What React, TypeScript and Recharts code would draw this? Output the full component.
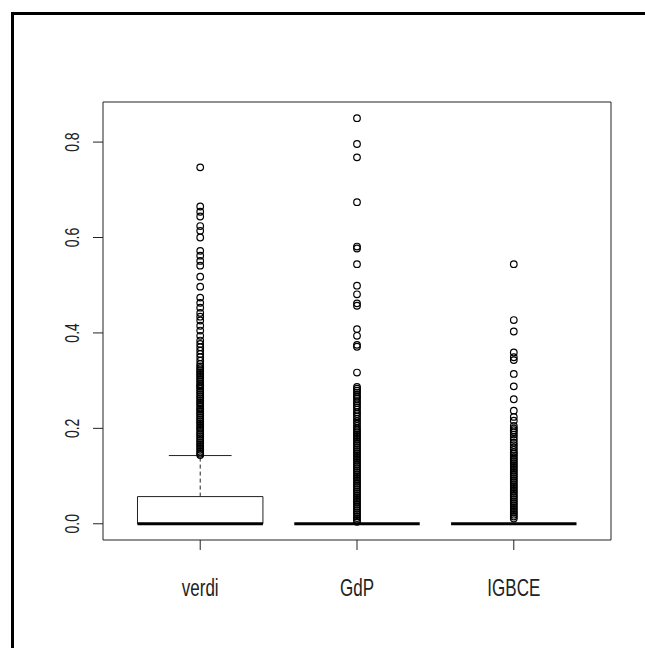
import React from "react";
import {
  ComposedChart,
  Scatter,
  XAxis,
  YAxis,
  ReferenceArea,
  ReferenceLine,
} from "recharts";

const groups = ["verdi", "GdP", "IGBCE"];
const yTicks = [0, 0.2, 0.4, 0.6, 0.8];

// box stats: [lower, median, upper quartile, whisker top]
const boxStats = [
  { q1: 0, median: 0, q3: 0.057, whisker: 0.143 },
  { q1: 0, median: 0, q3: 0, whisker: 0 },
  { q1: 0, median: 0, q3: 0, whisker: 0 },
];

const verdiOutliers = [
  0.747, 0.665, 0.654, 0.644, 0.624, 0.614, 0.6, 0.572, 0.562, 0.551, 0.541,
  0.518, 0.497, 0.474, 0.463, 0.453, 0.442, 0.434, 0.426, 0.415, 0.405, 0.394,
  0.384, 0.377, 0.37, 0.363, 0.356, 0.349, 0.342, 0.335, 0.33, 0.326, 0.322,
  0.318, 0.314, 0.31, 0.306, 0.302, 0.298, 0.293, 0.29, 0.287, 0.283, 0.279,
  0.275, 0.271, 0.267, 0.263, 0.259, 0.255, 0.251, 0.247, 0.242, 0.239, 0.235,
  0.231, 0.227, 0.223, 0.219, 0.215, 0.211, 0.207, 0.203, 0.199, 0.195, 0.19,
  0.187, 0.183, 0.179, 0.175, 0.171, 0.167, 0.163, 0.159, 0.155, 0.151, 0.147,
  0.144,
];

const gdpOutliers = [
  0.85, 0.796, 0.768, 0.674, 0.581, 0.577, 0.544, 0.499, 0.481, 0.462, 0.457,
  0.408, 0.394, 0.375, 0.371, 0.317, 0.287, 0.283, 0.279, 0.275, 0.27, 0.266,
  0.262, 0.257, 0.253, 0.248, 0.244, 0.239, 0.234, 0.23, 0.225, 0.22, 0.215,
  0.21, 0.205, 0.2, 0.196, 0.192, 0.188, 0.184, 0.18, 0.176, 0.172, 0.168,
  0.164, 0.16, 0.156, 0.152, 0.148, 0.144, 0.14, 0.136, 0.132, 0.128, 0.124,
  0.12, 0.116, 0.112, 0.108, 0.104, 0.1, 0.096, 0.092, 0.088, 0.084, 0.08,
  0.076, 0.072, 0.068, 0.064, 0.06, 0.056, 0.052, 0.048, 0.044, 0.04, 0.036,
  0.032, 0.028, 0.024, 0.02, 0.016, 0.012, 0.008, 0.004,
];

const igbceOutliers = [
  0.544, 0.427, 0.403, 0.359, 0.349, 0.343, 0.314, 0.288, 0.261, 0.237, 0.224,
  0.216, 0.205, 0.2, 0.196, 0.192, 0.187, 0.182, 0.176, 0.17, 0.165, 0.16,
  0.155, 0.15, 0.147, 0.143, 0.139, 0.135, 0.131, 0.127, 0.123, 0.119, 0.115,
  0.111, 0.107, 0.103, 0.099, 0.095, 0.091, 0.087, 0.083, 0.079, 0.075, 0.071,
  0.067, 0.063, 0.059, 0.055, 0.051, 0.047, 0.043, 0.039, 0.035, 0.031, 0.027,
  0.023, 0.019, 0.015, 0.011,
];

const outliers = [verdiOutliers, gdpOutliers, igbceOutliers];

const X_DOMAIN: [number, number] = [0.38, 3.62];
const Y_DOMAIN: [number, number] = [-0.034, 0.884];
const HALF = 0.4;
const TEXT = "#222";
const FONT = "'Liberation Sans', Arial, sans-serif";

const Circle = (props: any) => (
  <circle cx={props.cx} cy={props.cy} r={3.3} fill="none" stroke="#000" strokeWidth={1.2} />
);

const YTick = (props: any) => {
  const { y, payload } = props;
  return (
    <g transform={`translate(72,${y}) rotate(-90) scale(1,1.4)`}>
      <text x={0} y={0} dy={5} textAnchor="middle" fill={TEXT} fontSize={14} fontFamily={FONT}>
        {payload.value.toFixed(1)}
      </text>
    </g>
  );
};

const XTick = (props: any) => {
  const { x, payload } = props;
  return (
    <g transform={`translate(${x},588) scale(1,1.4)`}>
      <text x={0} y={0} dy={6} textAnchor="middle" fill={TEXT} fontSize={17} fontFamily={FONT}>
        {groups[payload.value - 1]}
      </text>
    </g>
  );
};

export default function App() {
  return (
    <div
      style={{
        position: "absolute",
        left: 0,
        top: 0,
        width: 645,
        height: 648,
        background: "#fff",
        overflow: "hidden",
      }}
    >
      {/* outer frame (only left and top edges are in view) */}
      <div
        style={{
          position: "absolute",
          left: 11,
          top: 12,
          width: 700,
          height: 700,
          borderLeft: "3px solid #000",
          borderTop: "3px solid #000",
        }}
      />
      <div style={{ position: "absolute", left: 0, top: 0 }}>
        <ComposedChart
          width={645}
          height={648}
          margin={{ top: 102, right: 34, bottom: 68, left: 43 }}
        >
          <XAxis
            type="number"
            dataKey="x"
            domain={X_DOMAIN}
            ticks={[1, 2, 3]}
            allowDataOverflow
            axisLine={false}
            tickSize={10}
            tickLine={{ stroke: "#222" }}
            tick={<XTick />}
            height={40}
          />
          <YAxis
            type="number"
            dataKey="y"
            domain={Y_DOMAIN}
            ticks={yTicks}
            allowDataOverflow
            axisLine={false}
            tickSize={10}
            tickLine={{ stroke: "#222" }}
            tick={<YTick />}
            width={60}
          />
          <ReferenceArea
            x1={X_DOMAIN[0]}
            x2={X_DOMAIN[1]}
            y1={Y_DOMAIN[0]}
            y2={Y_DOMAIN[1]}
            fill="none"
            fillOpacity={0}
            stroke="#222"
            strokeWidth={1}
          />
          {boxStats.map((b, i) => {
            const c = i + 1;
            return (
              <React.Fragment key={groups[i]}>
                {b.q3 > b.q1 && (
                  <ReferenceArea
                    x1={c - HALF}
                    x2={c + HALF}
                    y1={b.q1}
                    y2={b.q3}
                    fill="none"
                    fillOpacity={0}
                    stroke="#222"
                    strokeWidth={1}
                  />
                )}
                {b.whisker > b.q3 && (
                  <ReferenceLine
                    segment={[
                      { x: c, y: b.q3 },
                      { x: c, y: b.whisker },
                    ]}
                    stroke="#222"
                    strokeDasharray="4 3"
                  />
                )}
                {b.whisker > b.q3 && (
                  <ReferenceLine
                    segment={[
                      { x: c - HALF / 2, y: b.whisker },
                      { x: c + HALF / 2, y: b.whisker },
                    ]}
                    stroke="#222"
                  />
                )}
              </React.Fragment>
            );
          })}
          {outliers.map((vals, i) => (
            <Scatter
              key={groups[i]}
              data={vals.map((v) => ({ x: i + 1, y: v }))}
              shape={<Circle />}
              isAnimationActive={false}
            />
          ))}
          {boxStats.map((b, i) => (
            <ReferenceLine
              key={"med" + i}
              segment={[
                { x: i + 1 - HALF, y: b.median },
                { x: i + 1 + HALF, y: b.median },
              ]}
              stroke="#000"
              strokeWidth={3}
            />
          ))}
        </ComposedChart>
      </div>
    </div>
  );
}
